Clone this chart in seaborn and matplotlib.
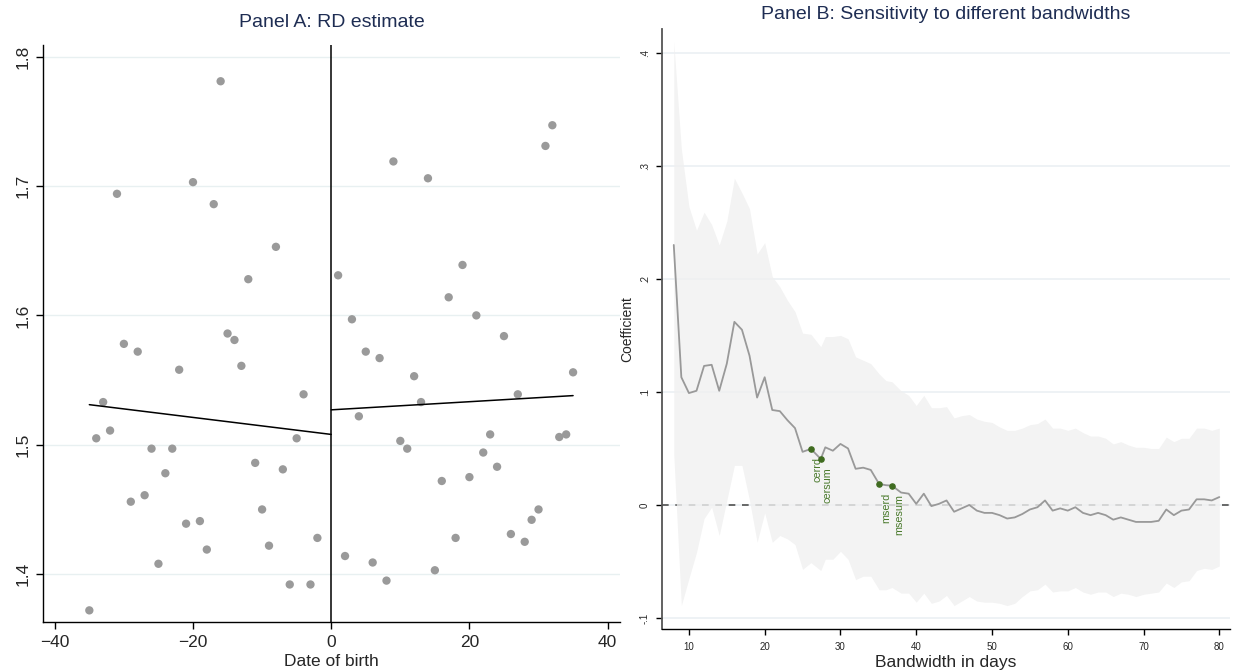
import numpy as np
import pandas as pd
import matplotlib
matplotlib.use('Agg')
import matplotlib.pyplot as plt
import seaborn as sns

# Panel A: binned means by day of birth around the cutoff
dob = list(range(-35, -1)) + list(range(1, 36))
outcome = [1.372, 1.505, 1.533, 1.511, 1.694, 1.578, 1.456, 1.572, 1.461, 1.497,
           1.408, 1.478, 1.497, 1.558, 1.439, 1.703, 1.441, 1.419, 1.686, 1.781,
           1.586, 1.581, 1.561, 1.628, 1.486, 1.450, 1.422, 1.653, 1.481, 1.392,
           1.505, 1.539, 1.392, 1.428,
           1.631, 1.414, 1.597, 1.522, 1.572, 1.409, 1.567, 1.395, 1.719, 1.503,
           1.497, 1.553, 1.533, 1.706, 1.403, 1.472, 1.614, 1.428, 1.639, 1.475,
           1.600, 1.494, 1.508, 1.483, 1.584, 1.431, 1.539, 1.425, 1.442, 1.450,
           1.731, 1.747, 1.506, 1.508, 1.556]
fit_left_x = [-35, 0]
fit_left_y = [1.531, 1.508]
fit_right_x = [0, 35]
fit_right_y = [1.527, 1.538]

# Panel B: estimates by bandwidth
bw = list(range(8, 26)) + [26.1, 27.4] + list(range(28, 35)) + [35.1, 36, 36.8] + list(range(38, 81))
coef = [0.230, 0.113, 0.099, 0.101, 0.123, 0.124, 0.101, 0.125, 0.162, 0.155,
        0.132, 0.095, 0.113, 0.084, 0.083, 0.075, 0.068, 0.047, 0.0496, 0.0407,
        0.051, 0.048, 0.054, 0.050, 0.032, 0.033, 0.031, 0.0186, 0.0175, 0.0171,
        0.011, 0.010, 0.001, 0.010, -0.001, 0.001, 0.004, -0.006, -0.003, 0.000,
        -0.005, -0.007, -0.007, -0.009, -0.012, -0.011, -0.008, -0.004, -0.002, 0.004,
        -0.005, -0.003, -0.005, -0.002, -0.007, -0.009, -0.007, -0.009, -0.013, -0.011,
        -0.013, -0.015, -0.015, -0.015, -0.014, -0.004, -0.009, -0.005, -0.004, 0.005,
        0.005, 0.004, 0.007]
ci_upper = [0.410, 0.315, 0.264, 0.243, 0.259, 0.248, 0.230, 0.251, 0.289, 0.276,
            0.262, 0.222, 0.232, 0.202, 0.193, 0.181, 0.171, 0.152, 0.151, 0.140,
            0.149, 0.149, 0.150, 0.147, 0.131, 0.128, 0.125, 0.116, 0.110, 0.109,
            0.101, 0.097, 0.088, 0.097, 0.086, 0.086, 0.087, 0.077, 0.079, 0.080,
            0.076, 0.074, 0.073, 0.069, 0.066, 0.066, 0.068, 0.071, 0.072, 0.076,
            0.068, 0.068, 0.066, 0.068, 0.064, 0.061, 0.061, 0.059, 0.054, 0.056,
            0.053, 0.051, 0.051, 0.050, 0.050, 0.060, 0.056, 0.059, 0.059, 0.068,
            0.068, 0.066, 0.068]
ci_lower = [0.045, -0.089, -0.065, -0.042, -0.012, -0.002, -0.027, 0.004, 0.035, 0.035,
            0.004, -0.033, -0.007, -0.033, -0.027, -0.030, -0.035, -0.057, -0.051, -0.058,
            -0.048, -0.048, -0.041, -0.048, -0.066, -0.063, -0.063, -0.075, -0.075, -0.073,
            -0.078, -0.078, -0.086, -0.078, -0.087, -0.085, -0.080, -0.089, -0.085, -0.081,
            -0.085, -0.086, -0.086, -0.087, -0.089, -0.087, -0.081, -0.076, -0.075, -0.070,
            -0.077, -0.076, -0.076, -0.073, -0.077, -0.079, -0.077, -0.077, -0.081, -0.078,
            -0.079, -0.081, -0.079, -0.078, -0.077, -0.069, -0.073, -0.068, -0.067, -0.058,
            -0.056, -0.057, -0.054]
opt_names = ['cerrd', 'cersum', 'mserd', 'msesum']
opt_bw = [26.1, 27.4, 35.1, 36.8]
opt_coef = [0.0496, 0.0407, 0.0186, 0.0171]

a_xticks = [-40, -20, 0, 20, 40]
a_yticks = [1.4, 1.5, 1.6, 1.7, 1.8]
b_xticks = [10, 20, 30, 40, 50, 60, 70, 80]
b_yticks = [-0.1, 0, 0.1, 0.2, 0.3, 0.4]
b_ylabels = ['-.1', '0', '.1', '.2', '.3', '.4']

sns.set_theme(style='white')
plt.rcParams['font.family'] = ['Liberation Sans', 'DejaVu Sans']

title_color = '#1e2d53'
fig = plt.figure(figsize=(12.33, 6.72), dpi=100)

# ---- Panel A
ax1 = fig.add_axes([0.0349, 0.0744, 0.468, 0.8586])
df_a = pd.DataFrame({'dob': dob, 'y': outcome})
ax1.yaxis.grid(True, color='#e8f0f1', lw=1)
ax1.set_axisbelow(True)
sns.scatterplot(data=df_a, x='dob', y='y', ax=ax1, color='#9a9a9a', s=36,
                edgecolor='none', zorder=3)
ax1.plot(fit_left_x, fit_left_y, color='black', lw=1.1, zorder=4)
ax1.plot(fit_right_x, fit_right_y, color='black', lw=1.1, zorder=4)
ax1.axvline(0, color='black', lw=1.1, zorder=4)
ax1.set_xlim(-41.7, 41.8)
ax1.set_ylim(1.363, 1.809)
ax1.set_xticks(a_xticks)
ax1.set_yticks(a_yticks)
ax1.set_yticklabels([f'{v:.1f}' for v in a_yticks], rotation=90, va='center')
ax1.tick_params(axis='both', labelsize=12.5, length=5, width=1, color='black',
                direction='out', bottom=True, left=True, pad=4)
ax1.set_xlabel('Date of birth', fontsize=12.5, labelpad=3)
ax1.set_ylabel('')
ax1.set_title('Panel A: RD estimate', fontsize=14, color=title_color, pad=13)
for s in ['top', 'right']:
    ax1.spines[s].set_visible(False)
for s in ['left', 'bottom']:
    ax1.spines[s].set_color('black')
    ax1.spines[s].set_linewidth(1)

# ---- Panel B
ax2 = fig.add_axes([0.5371, 0.0635, 0.4604, 0.8933])
df_b = pd.DataFrame({'bw': bw, 'coef': coef, 'lo': ci_lower, 'hi': ci_upper})
ax2.yaxis.grid(True, color='#ebf0f3', lw=1.2)
ax2.set_axisbelow(True)
ax2.axhline(0, color='#505050', lw=1.2, ls=(0, (4, 4)), zorder=1)
ax2.fill_between(df_b['bw'], df_b['lo'], df_b['hi'], color='#f0f0f0', alpha=0.8,
                 lw=0, zorder=2)
sns.lineplot(data=df_b, x='bw', y='coef', ax=ax2, color='#999999', lw=1.3,
             zorder=3, estimator=None, sort=True)
ax2.scatter(opt_bw, opt_coef, color='#3f6b1f', s=14, zorder=4)
for name, xb, yb in zip(opt_names, opt_bw, opt_coef):
    ax2.annotate(name, (xb, yb), xytext=(5, -6), textcoords='offset points',
                 rotation=90, ha='center', va='top', fontsize=7.8, color='#4a7a2c')
ax2.set_xlim(6.48, 81.4)
ax2.set_ylim(-0.110, 0.421)
ax2.set_xticks(b_xticks)
ax2.set_yticks(b_yticks)
ax2.set_yticklabels(b_ylabels, rotation=90, va='center')
ax2.tick_params(axis='both', labelsize=7, length=4, width=1, color='black',
                direction='out', bottom=True, left=True, pad=5)
ax2.set_xlabel('Bandwidth in days', fontsize=12.5, labelpad=2)
ax2.set_ylabel('Coefficient', fontsize=10, labelpad=4)
ax2.set_title('Panel B: Sensitivity to different bandwidths', fontsize=14,
              color=title_color, pad=7)
for s in ['top', 'right']:
    ax2.spines[s].set_visible(False)
ax2.spines['left'].set_color('#555555')
ax2.spines['left'].set_linewidth(1.3)
ax2.spines['bottom'].set_color('black')
ax2.spines['bottom'].set_linewidth(1)

plt.savefig('out.png', dpi=100)
